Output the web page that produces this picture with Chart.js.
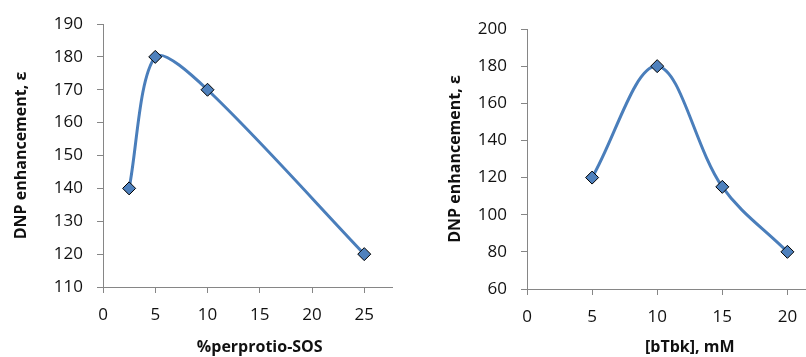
<!DOCTYPE html>
<html>
<head>
<meta charset="utf-8">
<script src="https://cdn.jsdelivr.net/npm/chart.js@4"></script>
<style>
  html, body { margin: 0; padding: 0; background: #fff; overflow: hidden; }
  body { width: 806px; height: 357px; position: relative; }
  .panel { position: absolute; top: 0; height: 357px; overflow: hidden; }
  #leftPanel { left: 0; width: 393px; }
  #rightPanel { left: 400px; width: 406px; }
  canvas { display: block; }
</style>
</head>
<body>
<div class="panel" id="leftPanel"><canvas id="chartSos" width="424" height="357"></canvas></div>
<div class="panel" id="rightPanel"><canvas id="chartTbk" width="460" height="357"></canvas></div>
<script>
// left chart data
const sosX = [2.5, 5, 10, 25];
const sosY = [140, 180, 170, 120];
const sosYTicks = [110, 190, 10]; // min, max, step
const sosXTicks = [0, 30, 5];

// right chart data
const tbkX = [5, 10, 15, 20];
const tbkY = [120, 180, 115, 80];
const tbkYTicks = [60, 200, 20];
const tbkXTicks = [0, 25, 5];

const axisGrey = '#868686';
const textCol = '#111';
const fontFam = "'Open Sans', sans-serif";

function makeChart(id, xs, ys, xT, yT, xTitle, opts) {
  const ctx = document.getElementById(id);
  return new Chart(ctx, {
    type: 'line',
    data: {
      datasets: [{
        data: xs.map((x, i) => ({ x: x, y: ys[i] })),
        borderColor: '#4A7EBB',
        borderWidth: 3,
        tension: opts.tension,
        pointStyle: 'rectRot',
        pointRadius: 6.5,
        pointBackgroundColor: '#4F81BD',
        pointBorderColor: '#000',
        pointBorderWidth: 1
      }]
    },
    options: {
      responsive: false,
      animation: false,
      devicePixelRatio: 1,
      layout: { padding: { top: opts.top, right: opts.right, left: 0, bottom: 0 } },
      plugins: { legend: { display: false }, tooltip: { enabled: false } },
      scales: {
        x: {
          type: 'linear',
          min: xT[0], max: xT[1],
          border: { display: true, color: axisGrey, width: 1 },
          grid: { drawOnChartArea: false, drawTicks: true, tickLength: 6, color: axisGrey },
          ticks: {
            stepSize: xT[2], includeBounds: false, padding: 12, maxRotation: 0,
            color: textCol, font: { family: fontFam, size: 17 }
          },
          title: {
            display: true, text: xTitle, color: textCol,
            font: { family: fontFam, size: 16, weight: 'bold' },
            padding: { top: 0, bottom: 0 }
          },
          afterFit: function (s) { s.height = opts.xh; s.paddingLeft = 0; s.paddingRight = 0; }
        },
        y: {
          min: yT[0], max: yT[1],
          border: { display: true, color: axisGrey, width: 1 },
          grid: { drawOnChartArea: false, drawTicks: true, tickLength: 6, color: axisGrey },
          ticks: {
            stepSize: yT[2], padding: 14,
            color: textCol, font: { family: fontFam, size: 17 }
          },
          title: {
            display: true, text: 'DNP enhancement, ε', color: textCol,
            font: { family: fontFam, size: 16, weight: 'bold' },
            padding: { top: opts.ytp, bottom: 0 }
          },
          afterFit: function (s) { s.width = opts.yw; s.paddingTop = 0; s.paddingBottom = 0; }
        }
      }
    }
  });
}

makeChart('chartSos', sosX, sosY, sosXTicks, sosYTicks, '%perprotio-SOS',
  { top: 24, right: 1, xh: 70, yw: 103, ytp: 11.4, tension: 0.3 });
makeChart('chartTbk', tbkX, tbkY, tbkXTicks, tbkYTicks, '[bTbk], mM',
  { top: 29, right: 0, xh: 68, yw: 127, ytp: 45.4, tension: 0.35 });
</script>
</body>
</html>
